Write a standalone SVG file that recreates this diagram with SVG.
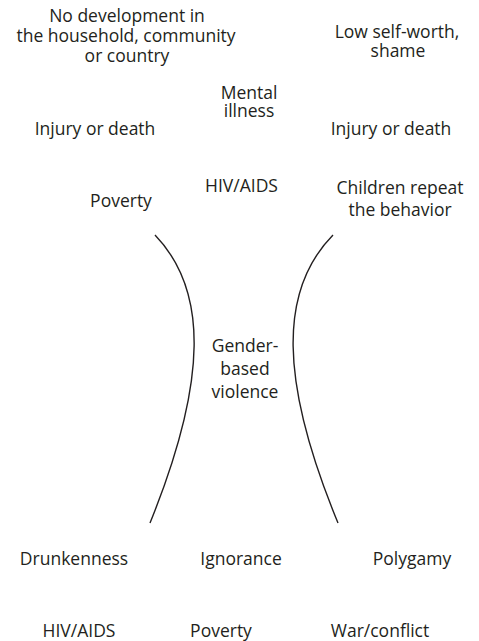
<svg xmlns="http://www.w3.org/2000/svg" width="479" height="641" viewBox="0 0 479 641">
<style>
text{font-family:"Open Sans","Noto Sans","Liberation Sans",sans-serif;font-size:17.5px;fill:#231f20;text-anchor:middle}
.curve{fill:none;stroke:#231f20;stroke-width:1.4}
</style>
<rect width="479" height="641" fill="#fff"/>
<g id="connectors">
<path class="curve" d="M155,235 C208,290 208,380 150,523"/>
<path class="curve" d="M333,235 C279,290 279,380 338,523"/>
</g>
<g id="no-development"><text x="127" y="22">No development in</text><text x="126" y="42">the household, community</text><text x="127" y="62">or country</text></g>
<g id="low-self-worth"><text x="397" y="38">Low self-worth,</text><text x="398" y="57">shame</text></g>
<g id="mental-illness"><text x="249" y="99">Mental</text><text x="249" y="117">illness</text></g>
<g id="injury-left"><text x="95" y="135">Injury or death</text></g>
<g id="injury-right"><text x="391" y="135">Injury or death</text></g>
<g id="hiv-top"><text x="241.5" y="192">HIV/AIDS</text></g>
<g id="poverty-top"><text x="121" y="207">Poverty</text></g>
<g id="children-repeat"><text x="400" y="194">Children repeat</text><text x="400" y="216">the behavior</text></g>
<g id="gbv"><text x="245" y="352">Gender-</text><text x="245" y="375">based</text><text x="245" y="398">violence</text></g>
<g id="drunkenness"><text x="74" y="565">Drunkenness</text></g>
<g id="ignorance"><text x="241" y="565">Ignorance</text></g>
<g id="polygamy"><text x="412" y="565">Polygamy</text></g>
<g id="hiv-bottom"><text x="79" y="637">HIV/AIDS</text></g>
<g id="poverty-bottom"><text x="221" y="637">Poverty</text></g>
<g id="war-conflict"><text x="380" y="637">War/conflict</text></g>
</svg>
